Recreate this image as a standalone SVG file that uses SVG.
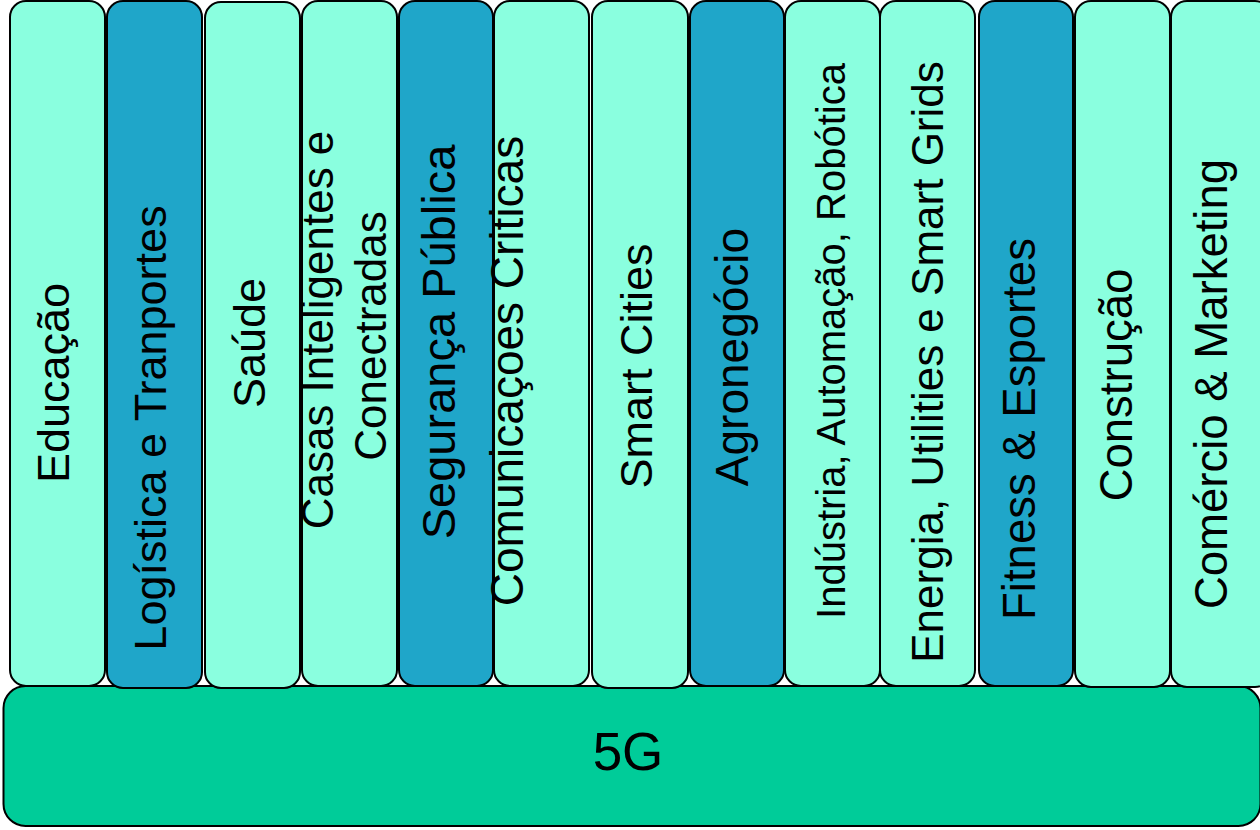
<svg xmlns="http://www.w3.org/2000/svg" width="1260" height="830" viewBox="0 0 1260 830">
<style>
.col{stroke:#000;stroke-width:2}
.lt{fill:#8AFFDF}
.dk{fill:#1FA6C9}
.base{fill:#00CC99;stroke:#000;stroke-width:2}
text{font-family:"Liberation Sans",Arial,sans-serif;fill:#000;text-anchor:middle}
.t{font-size:45px}
</style>
<rect width="1260" height="830" fill="#fff"/>
<g id="n5g">
<rect class="base" x="3.5" y="686" width="1257" height="140" rx="22"/>
<text x="628" y="770" style="font-size:53px">5G</text>
</g>
<g id="educacao">
<rect class="col lt" x="10" y="1" width="95" height="685" rx="16"/>
<text class="t" transform="translate(69,383) rotate(-90)">Educação</text>
</g>
<g id="logistica">
<rect class="col dk" x="107" y="1" width="95" height="687" rx="16"/>
<text class="t" transform="translate(166,428) rotate(-90)">Logística e Tranportes</text>
</g>
<g id="saude">
<rect class="col lt" x="205" y="2" width="95" height="686" rx="16"/>
<text class="t" transform="translate(265,343) rotate(-90)">Saúde</text>
</g>
<g id="casas">
<rect class="col lt" x="302" y="1" width="95" height="685" rx="16"/>
<text style="font-size:44px" transform="translate(333,330) rotate(-90)">Casas Inteligentes e</text>
<text style="font-size:44px" transform="translate(386,336) rotate(-90)">Conectradas</text>
</g>
<g id="seguranca">
<rect class="col dk" x="399" y="1" width="94" height="685" rx="16"/>
<text style="font-size:47px" transform="translate(455,342) rotate(-90)">Segurança Pública</text>
</g>
<g id="comunicacoes">
<rect class="col lt" x="494" y="1" width="95" height="685" rx="16"/>
<text style="font-size:46px" transform="translate(523,371) rotate(-90)">Comunicaçoes Criticas</text>
</g>
<g id="smartcities">
<rect class="col lt" x="592" y="1" width="96" height="687" rx="16"/>
<text class="t" transform="translate(652,366) rotate(-90)">Smart Cities</text>
</g>
<g id="agronegocio">
<rect class="col dk" x="690" y="1" width="94" height="685" rx="16"/>
<text style="font-size:46px" transform="translate(748,357) rotate(-90)">Agronegócio</text>
</g>
<g id="industria">
<rect class="col lt" x="785" y="1" width="95" height="685" rx="16"/>
<text style="font-size:40px" transform="translate(845,341) rotate(-90)">Indústria, Automação, Robótica</text>
</g>
<g id="energia">
<rect class="col lt" x="880" y="1" width="95" height="685" rx="16"/>
<text style="font-size:44px" transform="translate(943,362) rotate(-90)">Energia, Utilities e Smart Grids</text>
</g>
<g id="fitness">
<rect class="col dk" x="979" y="1" width="94" height="685" rx="16"/>
<text style="font-size:45.5px" transform="translate(1035,429) rotate(-90)">Fitness &amp; Esportes</text>
</g>
<g id="construcao">
<rect class="col lt" x="1075" y="1" width="95" height="686" rx="16"/>
<text style="font-size:45.5px" transform="translate(1132,385) rotate(-90)">Construção</text>
</g>
<g id="comercio">
<rect class="col lt" x="1171" y="1" width="100" height="686" rx="16"/>
<text style="font-size:45.5px" transform="translate(1227,384) rotate(-90)">Comércio &amp; Marketing</text>
</g>
<g id="connectors"></g>
</svg>
